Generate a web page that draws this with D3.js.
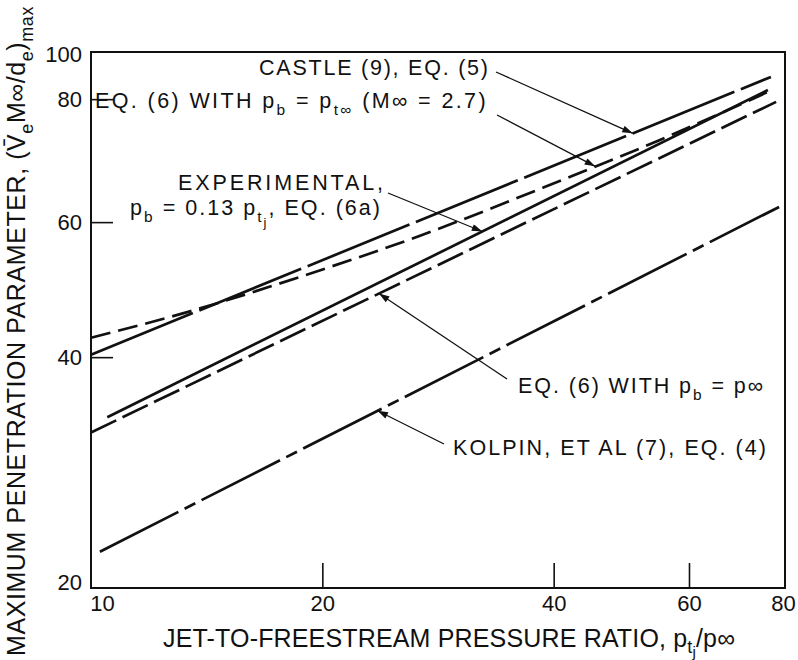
<!DOCTYPE html>
<html><head><meta charset="utf-8">
<script src="https://cdn.jsdelivr.net/npm/d3@7"></script>
<style>
body{margin:0;background:#fff;}
svg text{font-family:"Liberation Sans", Arial, Helvetica, sans-serif; fill:#111;}
</style></head><body>
<svg id="c" width="798" height="660"></svg>
<script>
// ---------- data ----------
const xDomain = [10, 80];
const yDomain = [20, 100];
const xTickValues = [10, 20, 40, 60, 80];
const xTickLabels = ["10", "20", "40", "60", "80"];
const yTickValues = [20, 40, 60, 86.8, 100];
const yTickLabels = ["20", "40", "60", "80", "100"];

// pressure ratio (x) and max penetration parameter (y) for each curve
const castleX = [10, 76.7];
const castleY = [40.3, 92.8];
const eq6TinfX = [10, 13.45, 18.7, 26.8, 38.4, 55.0, 76.0];
const eq6TinfY = [42.4, 45.9, 50.9, 57.6, 66.3, 76.8, 88.7];
const experimentalX = [10.5, 76.0];
const experimentalY = [33.4, 89.2];
const eq6InfX = [10, 77.9];
const eq6InfY = [31.9, 86.1];
const kolpinX = [10.27, 78.6];
const kolpinY = [22.3, 62.8];

// ---------- layout ----------
const W = 798, H = 660;
const m = {left: 91, top: 52, right: 13, bottom: 72};
const iw = W - m.left - m.right, ih = H - m.top - m.bottom;

const svg = d3.select("#c");
const g = svg.append("g").attr("transform", `translate(${m.left},${m.top})`);

const x = d3.scaleLog().domain(xDomain).range([0, iw]);
const y = d3.scaleLog().domain(yDomain).range([ih, 0]);

// arrow marker
svg.append("defs").append("marker")
  .attr("id", "arr").attr("viewBox", "0 0 12 8")
  .attr("refX", 12).attr("refY", 4)
  .attr("markerWidth", 12).attr("markerHeight", 7)
  .attr("markerUnits", "userSpaceOnUse").attr("orient", "auto")
  .append("path").attr("d", "M0,0 L12,4 L0,8 Z").attr("fill", "#111");

// axes
const xAxis = d3.axisBottom(x).tickValues(xTickValues)
  .tickFormat((d, i) => xTickLabels[i]).tickSizeInner(-25).tickSizeOuter(0).tickPadding(7);
const gx = g.append("g").attr("transform", `translate(0,${ih})`).call(xAxis);
gx.select(".domain").remove();
gx.selectAll("text").attr("font-size", 22).attr("fill", "#111");
gx.selectAll(".tick line").attr("stroke", "#111").attr("stroke-width", 1.6)
  .attr("display", (d, i) => (i === 0 || i === xTickValues.length - 1) ? "none" : null);
gx.selectAll(".tick text").filter((d, i) => i === 0).attr("dx", 11);
gx.selectAll(".tick text").filter((d, i) => i === xTickValues.length - 1).attr("dx", -2);

const yAxis = d3.axisLeft(y).tickValues(yTickValues)
  .tickFormat((d, i) => yTickLabels[i]).tickSizeInner(-22).tickSizeOuter(0).tickPadding(9);
const gy = g.append("g").call(yAxis);
gy.select(".domain").remove();
gy.selectAll("text").attr("font-size", 22).attr("fill", "#111");
gy.selectAll(".tick line").attr("stroke", "#111").attr("stroke-width", 1.6)
  .attr("display", (d, i) => (i === 0 || i === yTickValues.length - 1) ? "none" : null);
gy.selectAll(".tick text").filter((d, i) => i === 0).attr("dy", "0.05em");
gy.selectAll(".tick text").filter((d, i) => i === yTickValues.length - 1).attr("dy", "0.42em");

// frame
g.append("rect").attr("x", 0).attr("y", 0).attr("width", iw).attr("height", ih)
  .attr("fill", "none").attr("stroke", "#111").attr("stroke-width", 2);

// curves
const series = [
  {name: "castle", xs: castleX, ys: castleY, dash: "110,7"},
  {name: "eq6Tinf", xs: eq6TinfX, ys: eq6TinfY, dash: "20,8"},
  {name: "experimental", xs: experimentalX, ys: experimentalY, dash: null},
  {name: "eq6Inf", xs: eq6InfX, ys: eq6InfY, dash: "28,7"},
  {name: "kolpin", xs: kolpinX, ys: kolpinY, dash: "88,7,12,7"}
];
const line = d3.line().x(d => x(d[0])).y(d => y(d[1])).curve(d3.curveMonotoneX);
series.forEach(s => {
  s.pts = s.xs.map((v, i) => [v, s.ys[i]]);
  g.append("path").datum(s.pts).attr("d", line)
    .attr("fill", "none").attr("stroke", "#111").attr("stroke-width", 2.7)
    .attr("stroke-dasharray", s.dash);
});

// value on a series at a given x (log-log interpolation)
function yAt(s, xv) {
  const lx = Math.log(xv);
  for (let i = 0; i < s.pts.length - 1; i++) {
    const a = s.pts[i], b = s.pts[i + 1];
    if (lx >= Math.log(a[0]) && lx <= Math.log(b[0])) {
      const t = (lx - Math.log(a[0])) / (Math.log(b[0]) - Math.log(a[0]));
      return Math.exp(Math.log(a[1]) + t * (Math.log(b[1]) - Math.log(a[1])));
    }
  }
  return s.pts[s.pts.length - 1][1];
}
const byName = Object.fromEntries(series.map(s => [s.name, s]));

// rich text helper: parts [text, level]
function rich(sel, parts, size, shifts) {
  let cur = 0;
  const shift = shifts || [0, 0.32, 0.55];
  const scale = [1, 0.72, 0.6];
  parts.forEach(([t, lv]) => {
    lv = lv || 0;
    const target = shift[lv] * size;
    sel.append("tspan").text(t)
      .attr("font-size", size * scale[lv])
      .attr("dy", target - cur);
    cur = target;
  });
}
// stretch letter spacing so a text spans a given width
function fit(sel, target) {
  const n = sel.text().length;
  const w = sel.node().getBBox().width;
  sel.attr("letter-spacing", Math.max(0, (target - w) / (n - 1)));
}

// annotations (label position in px, arrow tip on a curve at a given pressure ratio)
const FS = 21.5;
const notes = [
  {series: "castle", tipX: 50.7, from: [496, 72], tx: 259, ty: 75, w: 229,
   parts: [["CASTLE (9), EQ. (5)"]]},
  {series: "eq6Tinf", tipX: 45.3, from: [497, 115], tx: 95, ty: 108, w: 393,
   parts: [["EQ. (6) WITH p"], ["b", 1], [" = p"], ["t\u221E", 1], [" (M\u221E  = 2.7)"]]},
  {series: "experimental", tipX: 32.3, from: [388, 193], tx: 178, ty: 190, w: 205,
   parts: [["EXPERIMENTAL,"]]},
  {series: "eq6Inf", tipX: 23.7, from: [507, 379], tx: 518, ty: 393, w: 245,
   parts: [["EQ. (6) WITH p"], ["b", 1], [" = p\u221E"]]},
  {series: "kolpin", tipX: 23.6, from: [444, 444], tx: 453, ty: 455, w: 313,
   parts: [["KOLPIN, ET AL (7), EQ. (4)"]]}
];
notes.forEach(n => {
  const s = byName[n.series];
  const tx = m.left + x(n.tipX), ty = m.top + y(yAt(s, n.tipX));
  svg.append("line").attr("x1", n.from[0]).attr("y1", n.from[1])
    .attr("x2", tx).attr("y2", ty)
    .attr("stroke", "#111").attr("stroke-width", 1.3).attr("marker-end", "url(#arr)");
  const t = svg.append("text").attr("x", n.tx).attr("y", n.ty).attr("font-size", FS);
  rich(t, n.parts, FS);
  fit(t, n.w);
});
// second line of the experimental label
const t2 = svg.append("text").attr("x", 130).attr("y", 215).attr("font-size", FS);
rich(t2, [["p"], ["b", 1], [" = 0.13 p"], ["t", 1], ["j", 2], [", EQ. (6a)", 0]], FS);
fit(t2, 250);

// axis titles
const xt = svg.append("text").attr("x", 163).attr("y", 647).attr("font-size", 25);
rich(xt, [["JET-TO-FREESTREAM PRESSURE RATIO, p"], ["t", 1], ["j", 2], ["/p\u221E", 0]], 25, [0, 0.25, 0.4]);
fit(xt, 572);

const yt = svg.append("text").attr("transform", "translate(25,331) rotate(-90)")
  .attr("text-anchor", "middle").attr("font-size", 25);
rich(yt, [["MAXIMUM PENETRATION PARAMETER, (V\u0304"], ["e", 1], ["M\u221E/d", 0], ["e", 1], [")", 0], ["max", 1]], 25);
fit(yt, 650);
</script>
</body></html>
